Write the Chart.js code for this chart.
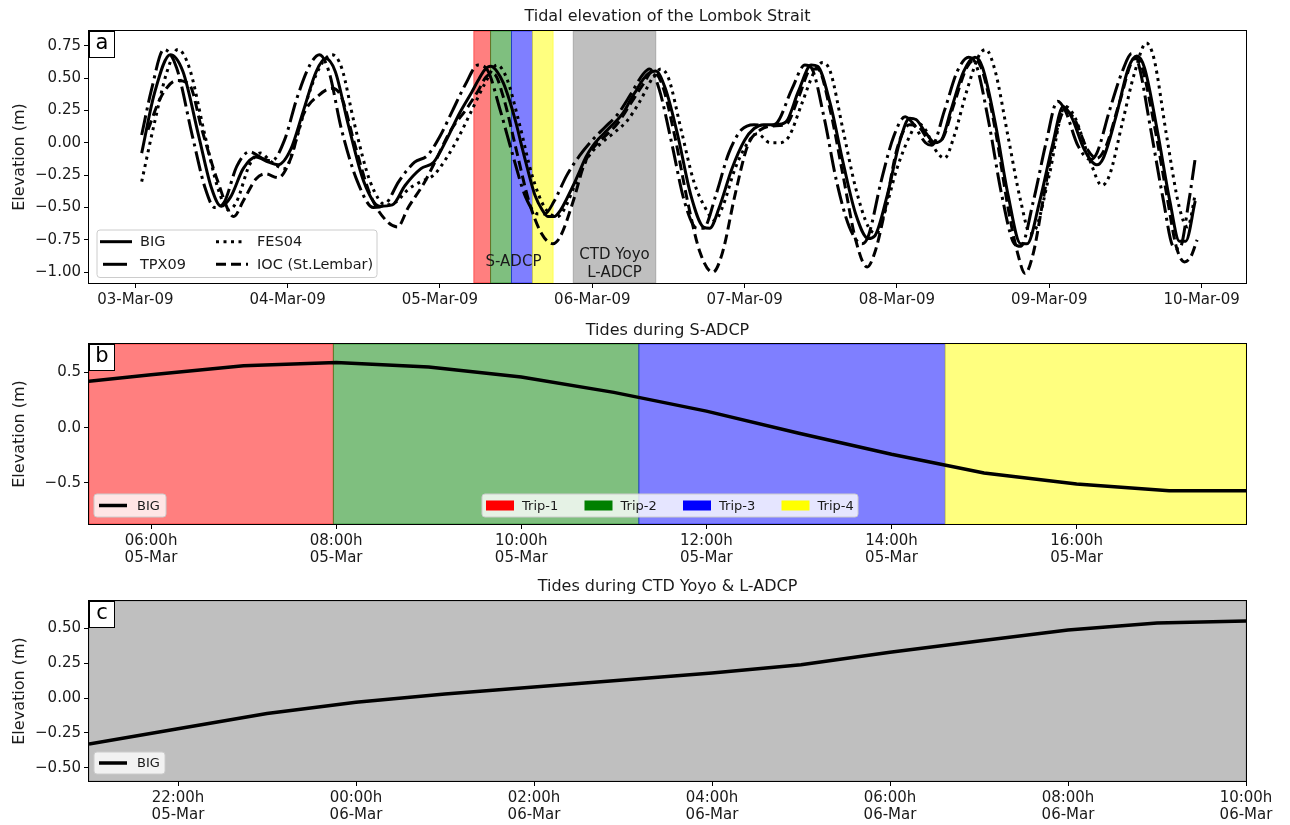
<!DOCTYPE html>
<html>
<head>
<meta charset="utf-8">
<script src="https://cdn.jsdelivr.net/npm/chart.js@4.4.0/dist/chart.umd.min.js"></script>
<style>
  body { margin: 0; background: #fff; width: 1290px; height: 825px; position: relative; overflow: hidden; }
  canvas { position: absolute; left: 0; }
</style>
</head>
<body>
<canvas id="chartA" width="1290" height="318" style="top:0px"></canvas>
<canvas id="chartB" width="1290" height="252" style="top:318px"></canvas>
<canvas id="chartC" width="1290" height="255" style="top:570px"></canvas>
<script>
// time axis = hours since 03-Mar-09 00:00

// panel a: tide models + tide gauge
var bigHours = [1,3,5.5,7.5,10,12,13.5,15,17,19,21,22.5,24.5,26.5,28.5,30,31.5,33.5,36,38.5,40.5,42.5,45,47,49,51,
  53,54,55,56,57,58,59,60,61,62,63,64,65,66,67,68,69,70,71,72,73,74,75,76,77,78,79,80,81,82,
  83.5,85.5,87.5,89.5,90.5,92,94,96,97.5,99,101,102.5,104.5,106.5,107.5,109.5,111.5,113.5,115.5,116.5,118.5,120.5,
  122,123,124.5,126,127,128.5,130.5,132.3,133.5,135.5,137.5,139.5,140.5,142.5,144.5,146.2,147.5,149.5,151.5,152.5,
  154.5,156.5,157.8,159,161,163,164.5,165.5,167];
var bigElev = [-0.08,0.38,0.68,0.55,0.05,-0.35,-0.49,-0.42,-0.20,-0.11,-0.15,-0.17,-0.05,0.25,0.55,0.65,0.55,0.15,-0.30,-0.49,-0.48,-0.33,-0.20,-0.15,0.02,0.22,
  0.39,0.48,0.56,0.59,0.55,0.46,0.32,0.15,-0.05,-0.24,-0.41,-0.51,-0.57,-0.57,-0.52,-0.43,-0.33,-0.22,-0.11,-0.03,0.03,0.08,0.13,0.18,0.24,0.33,0.41,0.49,0.54,0.555,
  0.42,0.05,-0.40,-0.65,-0.66,-0.50,-0.20,0.02,0.11,0.14,0.14,0.16,0.40,0.60,0.59,0.30,-0.15,-0.55,-0.74,-0.72,-0.40,0.02,
  0.19,0.18,0.08,0.00,0.02,0.25,0.55,0.66,0.58,0.15,-0.40,-0.78,-0.78,-0.45,-0.02,0.28,0.20,-0.05,-0.17,-0.12,
  0.20,0.58,0.67,0.58,0.10,-0.45,-0.76,-0.76,-0.45];

var tpxHours = [1,2.5,4.5,6.5,9,11,12.5,14,16,18,20,21.5,23.5,25.5,27.5,29,30.5,32.5,35,37.5,39.5,41.5,44,46,48,50,52,54,55.5,57.5,
  59.5,61.5,63.5,64.5,66,68,70,72,74,76,78,80,81,82.5,84.5,86.5,88.5,89.5,91.5,93.5,95.5,97.5,99.5,101,103.5,105.5,106.5,108.5,
  110.5,112.5,114.5,115.5,117.5,119.5,121.3,122.5,124.5,125.5,127.5,129.5,131.3,132.5,134.5,136.5,138.5,139.5,141.5,143.5,145.3,
  146.5,148.5,150.5,151.5,153.5,155.5,157,158,160,162,163.5,164.5,166,167];
var tpxElev = [0.06,0.40,0.72,0.58,0.05,-0.35,-0.50,-0.46,-0.18,-0.07,-0.12,-0.14,0.02,0.35,0.60,0.68,0.55,0.10,-0.30,-0.50,-0.47,-0.30,-0.15,-0.10,0.05,0.25,0.45,0.60,0.56,0.25,
  -0.10,-0.42,-0.55,-0.55,-0.45,-0.25,-0.10,0.02,0.12,0.22,0.37,0.53,0.57,0.42,0.00,-0.45,-0.66,-0.66,-0.40,-0.08,0.10,0.14,0.13,0.15,0.42,0.60,0.58,0.20,
  -0.30,-0.65,-0.78,-0.72,-0.30,0.05,0.20,0.15,0.00,-0.02,0.25,0.55,0.66,0.60,0.15,-0.40,-0.78,-0.80,-0.45,0.00,0.32,
  0.25,-0.02,-0.13,-0.08,0.25,0.55,0.69,0.62,0.10,-0.45,-0.80,-0.82,-0.45,-0.12];

var fesHours = [1,3,5,6.7,8.5,11,13,14.7,16,18,19.7,21.5,23.5,25.5,27.5,29.5,31,32.5,34.5,37,39.5,41,43,45,47,49,51,53,55,57,58.5,
  60.5,62.5,64.5,66.5,67.5,69.5,71.5,73.5,75.5,77.5,79.5,81.5,82.8,84,86,88,90,91.3,92.5,94.5,96.5,98,100,101.5,103,105,107,108.3,
  109.5,111.5,113.5,115.5,116.8,118,120,122,123.3,124.5,126,127.5,129,131,133,134,135.5,137.5,139.5,141,142,144,146.5,148,150.5,
  152.3,153.5,155.5,157.5,159.3,160.5,162.5,164.5,165.8,167];
var fesElev = [-0.30,0.15,0.55,0.72,0.58,0.05,-0.35,-0.52,-0.45,-0.17,-0.08,-0.15,-0.20,0.05,0.40,0.62,0.68,0.58,0.15,-0.30,-0.48,-0.46,-0.36,-0.30,-0.25,-0.12,0.05,0.25,0.45,0.60,0.50,
  0.15,-0.25,-0.50,-0.57,-0.52,-0.30,-0.10,0.00,0.08,0.17,0.32,0.50,0.57,0.50,0.10,-0.30,-0.52,-0.60,-0.50,-0.20,0.00,0.07,0.00,0.00,0.05,0.30,0.55,0.62,
  0.55,0.10,-0.35,-0.65,-0.70,-0.55,-0.20,0.05,0.15,0.10,-0.05,-0.12,0.05,0.40,0.68,0.72,0.55,0.05,-0.45,-0.70,-0.65,-0.25,0.28,0.20,-0.15,
  -0.33,-0.25,0.15,0.55,0.77,0.65,0.05,-0.50,-0.65,-0.40];

var iocHours = [2,4,6.5,8.5,10.5,13,15.5,17,19,20.5,22.5,24.5,26.5,29,31,32.5,34.5,37,39.5,41.3,43,45.5,47.5,49.5,52.3,54,55.5,56.5,58,
  60,62,64,65.8,67,69,70.7,72,74,76,78,80,81.5,83,85,87,89,91,92.5,94.5,96.5,98.5,100.5,102.5,104.5,106.5,107.5,109.5,111.5,113.5,
  115.3,116.5,118,120,122,123.5,125.5,127,129,131,132.3,133.5,135.5,137.5,139,140.2,141.5,143,144.5,146.5,148,150,151.5,153,155,
  157.5,158.5,160.5,162.5,164,165.3,166.3,167.3];
var iocElev = [0.10,0.35,0.48,0.45,0.10,-0.30,-0.57,-0.45,-0.28,-0.24,-0.27,-0.12,0.22,0.37,0.42,0.35,0.00,-0.40,-0.60,-0.65,-0.50,-0.31,-0.12,0.08,0.27,0.40,0.52,0.53,0.35,
  -0.05,-0.45,-0.70,-0.78,-0.72,-0.45,-0.17,-0.05,0.05,0.15,0.30,0.45,0.55,0.45,0.05,-0.45,-0.85,-1.00,-0.85,-0.40,-0.02,0.10,0.13,0.14,0.35,0.57,0.57,0.25,-0.25,-0.75,
  -0.96,-0.85,-0.55,-0.05,0.14,0.12,0.00,0.02,0.30,0.58,0.64,0.55,0.10,-0.50,-0.85,-1.01,-0.85,-0.45,-0.05,0.25,0.18,-0.05,-0.12,-0.02,0.30,
  0.65,0.60,0.15,-0.40,-0.80,-0.92,-0.88,-0.75];

var dayTicks = [0, 24, 48, 72, 96, 120, 144, 168];
var dayLabels = ['03-Mar-09', '04-Mar-09', '05-Mar-09', '06-Mar-09', '07-Mar-09', '08-Mar-09', '09-Mar-09', '10-Mar-09'];
var elevTicksA = [-1.0, -0.75, -0.5, -0.25, 0, 0.25, 0.5, 0.75];

// survey periods
var tripNames = ['Trip-1', 'Trip-2', 'Trip-3', 'Trip-4'];
var tripStart = [53.33, 55.97, 59.27, 62.58];
var tripEnd = [55.97, 59.27, 62.58, 65.83];
var tripColors = ['255,0,0', '0,128,0', '0,0,255', '255,255,0'];
var yoyoStart = 69, yoyoEnd = 82;

// panel b: BIG during S-ADCP (hourly)
var sadcpHours = [53, 54, 55, 56, 57, 58, 59, 60, 61, 62, 63, 64, 65, 66];
var sadcpElev = [0.39, 0.48, 0.56, 0.59, 0.55, 0.46, 0.32, 0.15, -0.05, -0.24, -0.41, -0.51, -0.57, -0.57];
var sadcpTicks = [54, 56, 58, 60, 62, 64];
var sadcpLabels = [['06:00h', '05-Mar'], ['08:00h', '05-Mar'], ['10:00h', '05-Mar'], ['12:00h', '05-Mar'], ['14:00h', '05-Mar'], ['16:00h', '05-Mar']];
var elevTicksB = [-0.5, 0, 0.5];

// panel c: BIG during CTD Yoyo & L-ADCP (hourly)
var yoyoHours = [69, 70, 71, 72, 73, 74, 75, 76, 77, 78, 79, 80, 81, 82];
var yoyoElev = [-0.33, -0.22, -0.11, -0.03, 0.03, 0.08, 0.13, 0.18, 0.24, 0.33, 0.41, 0.49, 0.54, 0.555];
var yoyoTicks = [70, 72, 74, 76, 78, 80, 82];
var yoyoLabels = [['22:00h', '05-Mar'], ['00:00h', '06-Mar'], ['02:00h', '06-Mar'], ['04:00h', '06-Mar'], ['06:00h', '06-Mar'], ['08:00h', '06-Mar'], ['10:00h', '06-Mar']];
var elevTicksC = [-0.5, -0.25, 0, 0.25, 0.5];

Chart.defaults.font.family = '"DejaVu Sans", sans-serif';
Chart.defaults.color = '#1a1a1a';

var FONT = '"DejaVu Sans", sans-serif';
var DASH_TPX = [20, 5, 3, 5], DASH_FES = [3, 4.5], DASH_IOC = [10, 5];

function pts(hs, vs) {
    return hs.map(function (h, i) { return {x: h, y: vs[i]}; });
}

function fmt(v, d) {
    return (v < 0 ? '\u2212' : '') + Math.abs(v).toFixed(d);
}

function scalesFor(xMin, xMax, xTicks, xLabels, yMin, yMax, yTicks, yDec, xHeight) {
    var grid = {drawOnChartArea: false, drawTicks: true, tickLength: 5, color: '#000', tickWidth: 1};
    return {
        x: {
            type: 'linear', min: xMin, max: xMax,
            afterBuildTicks: function (s) { s.ticks = xTicks.map(function (v) { return {value: v}; }); },
            afterFit: function (s) { s.height = xHeight; },
            ticks: {autoSkip: false, maxRotation: 0, minRotation: 0, padding: 3,
                    font: {size: 15, lineHeight: 1.17},
                    callback: function (v, i) { return xLabels[i]; }},
            grid: grid, border: {display: false}
        },
        y: {
            type: 'linear', min: yMin, max: yMax,
            afterBuildTicks: function (s) { s.ticks = yTicks.map(function (v) { return {value: v}; }); },
            afterFit: function (s) { s.width = 89; },
            ticks: {padding: 3, font: {size: 15}, callback: function (v) { return fmt(v, yDec); }},
            grid: grid, border: {display: false}
        }
    };
}

function roundBox(ctx, x, y, w, h, r) {
    ctx.beginPath();
    ctx.moveTo(x + r, y);
    ctx.lineTo(x + w - r, y); ctx.quadraticCurveTo(x + w, y, x + w, y + r);
    ctx.lineTo(x + w, y + h - r); ctx.quadraticCurveTo(x + w, y + h, x + w - r, y + h);
    ctx.lineTo(x + r, y + h); ctx.quadraticCurveTo(x, y + h, x, y + h - r);
    ctx.lineTo(x, y + r); ctx.quadraticCurveTo(x, y, x + r, y);
    ctx.closePath();
}

function drawLegend(ctx, a, L) {
    var bx = a.left + L.x, by = a.bottom - L.up;
    roundBox(ctx, bx, by, L.w, L.h, 3);
    ctx.fillStyle = 'rgba(255,255,255,0.8)';
    ctx.fill();
    ctx.strokeStyle = '#cccccc';
    ctx.lineWidth = 1;
    ctx.stroke();
    ctx.font = L.size + 'px ' + FONT;
    ctx.textAlign = 'left';
    ctx.textBaseline = 'middle';
    L.items.forEach(function (it) {
        var yy = by + it.y;
        if (it.patch) {
            ctx.fillStyle = it.patch;
            ctx.fillRect(bx + it.x0, yy - 5, it.x1 - it.x0, 10);
        } else {
            ctx.save();
            ctx.strokeStyle = '#000';
            ctx.lineWidth = it.lw;
            ctx.setLineDash(it.dash || []);
            ctx.beginPath();
            ctx.moveTo(bx + it.x0, yy);
            ctx.lineTo(bx + it.x1, yy);
            ctx.stroke();
            ctx.restore();
        }
        ctx.fillStyle = '#1a1a1a';
        ctx.fillText(it.label, bx + it.tx, yy + 1);
    });
}

// shaded periods, frame, titles, panel letter, notes and legends
function decor(o) {
    return {
        id: 'decor',
        beforeDatasetsDraw: function (chart) {
            var ctx = chart.ctx, a = chart.chartArea, x = chart.scales.x;
            ctx.save();
            o.spans.forEach(function (s) {
                var x1 = Math.max(a.left, x.getPixelForValue(s.from));
                var x2 = Math.min(a.right, x.getPixelForValue(s.to));
                ctx.fillStyle = 'rgba(' + s.rgb + ',0.5)';
                ctx.fillRect(x1, a.top, x2 - x1, a.bottom - a.top);
                ctx.strokeStyle = 'rgba(' + s.rgb + ',0.5)';
                ctx.lineWidth = 1;
                ctx.strokeRect(x1, a.top, x2 - x1, a.bottom - a.top);
            });
            ctx.restore();
        },
        afterDraw: function (chart) {
            var ctx = chart.ctx, a = chart.chartArea, x = chart.scales.x, y = chart.scales.y;
            ctx.save();
            ctx.strokeStyle = '#000';
            ctx.lineWidth = 1;
            ctx.strokeRect(a.left - 0.5, a.top - 0.5, a.right - a.left + 1, a.bottom - a.top + 1);

            ctx.fillStyle = '#1a1a1a';
            ctx.textAlign = 'center';
            ctx.textBaseline = 'middle';
            ctx.font = '16px ' + FONT;
            ctx.fillText(o.title, (a.left + a.right) / 2, o.titleY);

            ctx.save();
            ctx.translate(20, (a.top + a.bottom) / 2);
            ctx.rotate(-Math.PI / 2);
            ctx.fillText('Elevation (m)', 0, 0);
            ctx.restore();

            ctx.fillStyle = '#fff';
            ctx.fillRect(a.left, a.top, 25, 26);
            ctx.strokeRect(a.left + 0.5, a.top + 0.5, 25, 26);
            ctx.fillStyle = '#000';
            ctx.font = '21px ' + FONT;
            ctx.fillText(o.letter, a.left + 13, a.top + 13);

            ctx.fillStyle = '#1a1a1a';
            ctx.font = '15px ' + FONT;
            (o.notes || []).forEach(function (n) {
                ctx.fillText(n.text, x.getPixelForValue(n.x), y.getPixelForValue(n.y));
            });

            o.legends.forEach(function (L) { drawLegend(ctx, a, L); });
            ctx.restore();
        }
    };
}

function baseOptions(padTop, scales) {
    return {
        responsive: false,
        devicePixelRatio: 1,
        animation: false,
        layout: {padding: {top: padTop, right: 44, left: 0, bottom: 0}},
        plugins: {legend: {display: false}, tooltip: {enabled: false}, title: {display: false}},
        elements: {point: {radius: 0}, line: {borderCapStyle: 'butt'}},
        scales: scales
    };
}

function line(label, data, dash, width, smooth) {
    return {label: label, data: data, borderColor: '#000', borderWidth: width, borderDash: dash,
            fill: false, clip: 0, cubicInterpolationMode: smooth ? 'monotone' : 'default', tension: 0};
}

// ---- panel a ----
var spansA = tripStart.map(function (s, i) { return {from: s, to: tripEnd[i], rgb: tripColors[i]}; });
spansA.push({from: yoyoStart, to: yoyoEnd, rgb: '128,128,128'});

new Chart(document.getElementById('chartA'), {
    type: 'line',
    data: {datasets: [
        line('BIG', pts(bigHours, bigElev), [], 3, true),
        line('TPX09', pts(tpxHours, tpxElev), DASH_TPX, 3, true),
        line('FES04', pts(fesHours, fesElev), DASH_FES, 3, true),
        line('IOC (St.Lembar)', pts(iocHours, iocElev), DASH_IOC, 3, true)
    ]},
    options: baseOptions(31, scalesFor(-7.3, 175, dayTicks, dayLabels, -1.083, 0.863, elevTicksA, 2, 35)),
    plugins: [decor({
        title: 'Tidal elevation of the Lombok Strait', titleY: 17, letter: 'a',
        spans: spansA,
        notes: [{text: 'S-ADCP', x: (tripStart[0] + tripEnd[3]) / 2, y: -0.918},
                {text: 'CTD Yoyo', x: (yoyoStart + yoyoEnd) / 2, y: -0.866},
                {text: 'L-ADCP', x: (yoyoStart + yoyoEnd) / 2, y: -1.008}],
        legends: [{x: 8, up: 53, w: 280, h: 47.5, size: 14.5, items: [
            {label: 'BIG', x0: 3, x1: 35, y: 11.7, tx: 43, lw: 3, dash: []},
            {label: 'TPX09', x0: 6, x1: 30, y: 34.3, tx: 43, lw: 3, dash: []},
            {label: 'FES04', x0: 119, x1: 147, y: 11.7, tx: 160, lw: 3, dash: DASH_FES},
            {label: 'IOC (St.Lembar)', x0: 119, x1: 151, y: 34.3, tx: 160, lw: 3, dash: DASH_IOC}
        ]}]
    })]
});

// ---- panel b ----
var spansB = tripStart.map(function (s, i) { return {from: s, to: tripEnd[i], rgb: tripColors[i]}; });
new Chart(document.getElementById('chartB'), {
    type: 'line',
    data: {datasets: [line('BIG', pts(sadcpHours, sadcpElev), [], 3.5, false)]},
    options: baseOptions(26, scalesFor(tripStart[0], tripEnd[3], sadcpTicks, sadcpLabels, -0.872, 0.758, elevTicksB, 1, 46)),
    plugins: [decor({
        title: 'Tides during S-ADCP', titleY: 13, letter: 'b',
        spans: spansB,
        legends: [
            {x: 5, up: 30, w: 72, h: 23, size: 13, items: [
                {label: 'BIG', x0: 5, x1: 33, y: 11.5, tx: 43, lw: 3.5}]},
            {x: 393, up: 30, w: 376, h: 23, size: 13, items: tripNames.map(function (n, i) {
                return {label: n, patch: 'rgb(' + tripColors[i] + ')', x0: 4 + i * 98.5, x1: 32 + i * 98.5, y: 11.5, tx: 40 + i * 98.5};
            })}
        ]
    })]
});

// ---- panel c ----
new Chart(document.getElementById('chartC'), {
    type: 'line',
    data: {datasets: [line('BIG', pts(yoyoHours, yoyoElev), [], 3.5, false)]},
    options: baseOptions(31, scalesFor(yoyoStart, yoyoEnd, yoyoTicks, yoyoLabels, -0.595, 0.698, elevTicksC, 2, 44)),
    plugins: [decor({
        title: 'Tides during CTD Yoyo & L-ADCP', titleY: 16.7, letter: 'c',
        spans: [{from: yoyoStart, to: yoyoEnd, rgb: '128,128,128'}],
        legends: [{x: 5, up: 29, w: 71, h: 22, size: 13, items: [
            {label: 'BIG', x0: 5, x1: 33, y: 11, tx: 43, lw: 3.5}]}]
    })]
});
</script>
</body>
</html>
